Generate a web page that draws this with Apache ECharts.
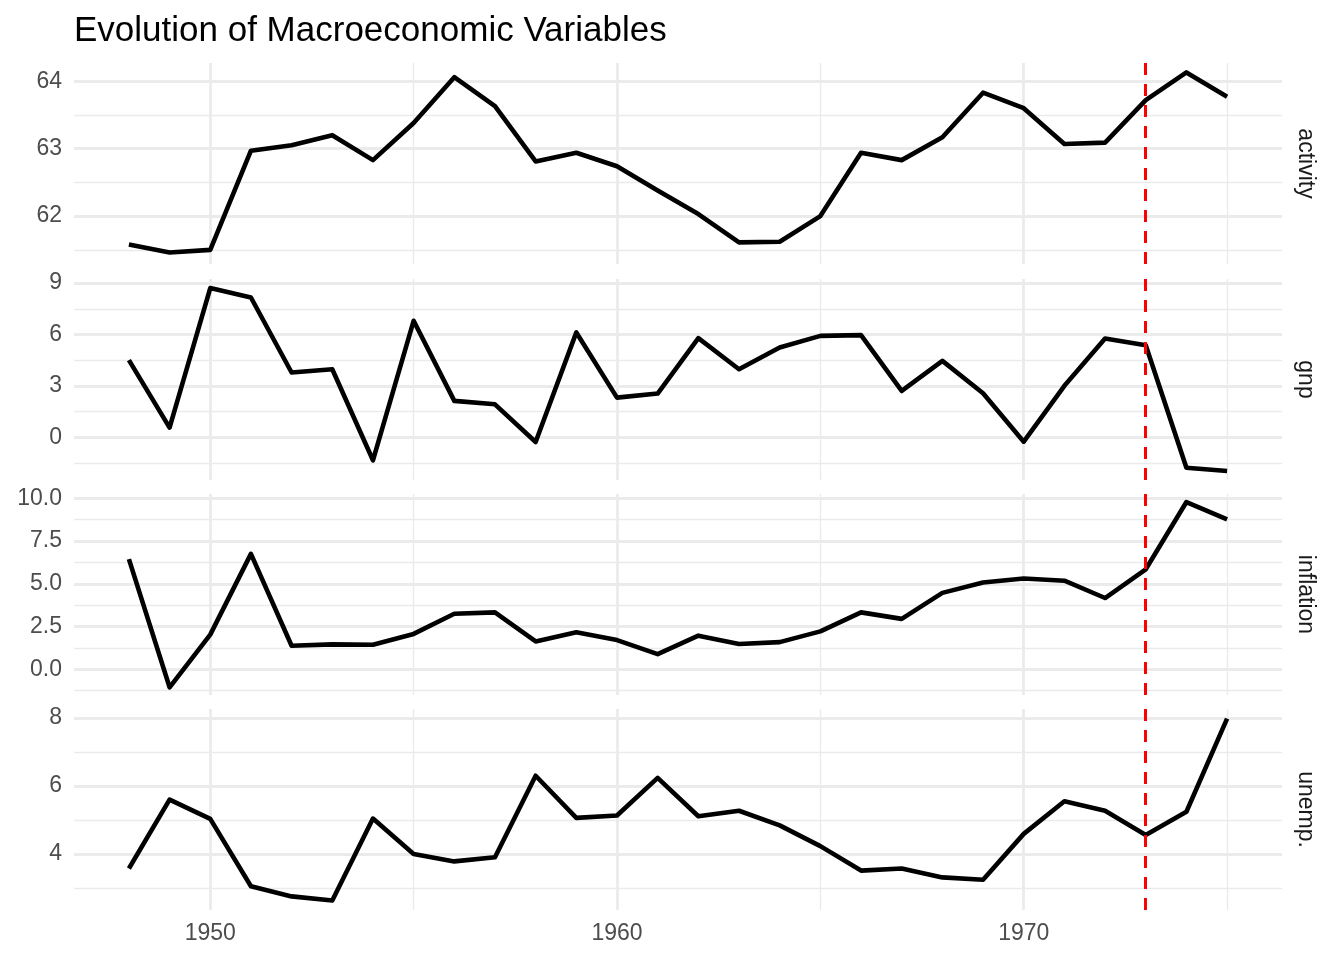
<!DOCTYPE html>
<html>
<head>
<meta charset="utf-8">
<script src="https://cdn.jsdelivr.net/npm/echarts@6/dist/echarts.min.js"></script>
<style>html,body{margin:0;padding:0;background:#fff}#c{width:1344px;height:960px}</style>
</head>
<body>
<div id="c"></div>
<script>
const years = [1948,1949,1950,1951,1952,1953,1954,1955,1956,1957,1958,1959,1960,1961,1962,1963,1964,1965,1966,1967,1968,1969,1970,1971,1972,1973,1974,1975];
const activity = [61.58,61.46,61.50,62.97,63.05,63.20,62.83,63.38,64.06,63.63,62.81,62.94,62.74,62.38,62.03,61.61,61.62,62.00,62.94,62.83,63.17,63.83,63.60,63.07,63.09,63.72,64.13,63.77];
const gnp = [4.50,0.56,8.71,8.16,3.78,3.97,-1.35,6.80,2.12,1.92,-0.28,6.12,2.31,2.55,5.79,3.97,5.24,5.92,5.96,2.70,4.46,2.57,-0.26,3.00,5.76,5.37,-1.78,-1.97];
const inflation = [6.44,-1.05,2.03,6.75,1.38,1.46,1.44,2.07,3.25,3.33,1.63,2.17,1.71,0.89,1.97,1.48,1.59,2.22,3.33,2.95,4.47,5.08,5.31,5.18,4.17,5.85,9.78,8.76];
const unemp = [3.57,5.60,5.03,3.05,2.75,2.63,5.04,4.00,3.78,3.90,6.30,5.06,5.13,6.24,5.11,5.27,4.84,4.23,3.51,3.57,3.31,3.24,4.59,5.55,5.27,4.56,5.24,7.98];

const panelNames = ['activity','gnp','inflation','unemp.'];
const panelSeries = [activity, gnp, inflation, unemp];
const yTicks = [[62,63,64],[0,3,6,9],[0,2.5,5,7.5,10],[4,6,8]];
const yMinor = [[61.5,62.5,63.5],[-1.5,1.5,4.5,7.5],[-1.25,1.25,3.75,6.25,8.75],[3,5,7]];
const yMin = [61.29,-2.5,-1.5,2.35];
const yMax = [64.27,9.24,10.25,8.265];
const xTicks = [1950,1960,1970];
const xMinor = [1955,1965,1975];
const xMin = 1946.65, xMax = 1976.35;
const breakYear = 1973;

const FONT = 'Liberation Sans, Arial, sans-serif';
const tops = [63,279,494,709];
const H = 201;

const grids = [], xAxes = [], yAxes = [], series = [], graphics = [];
const majorStyle = {color:'#EBEBEB', width:2.8, type:'solid'};
const minorStyle = {color:'#EBEBEB', width:1.4, type:'solid'};

for (let i = 0; i < 4; i++) {
  grids.push({left:74, width:1208, top:tops[i], height:H, containLabel:false});
  xAxes.push({
    type:'value', gridIndex:i, min:xMin, max:xMax,
    axisLine:{show:false}, axisTick:{show:false}, splitLine:{show:false},
    axisLabel:{show:i===3, customValues:xTicks, color:'#4D4D4D', fontSize:23, fontFamily:FONT, margin:12, formatter:v=>String(v)}
  });
  const dec = i === 2;
  yAxes.push({
    type:'value', gridIndex:i, min:yMin[i], max:yMax[i],
    axisLine:{show:false}, axisTick:{show:false}, splitLine:{show:false},
    axisLabel:{customValues:yTicks[i], color:'#4D4D4D', fontSize:23, fontFamily:FONT, margin:12,
      formatter:v=> dec ? Number(v).toFixed(1) : String(Math.round(v))}
  });
  const pts = years.map((y,k)=>[y, panelSeries[i][k]]);
  const gridLines = [];
  xTicks.forEach(v=>gridLines.push({xAxis:v, lineStyle:majorStyle}));
  xMinor.forEach(v=>gridLines.push({xAxis:v, lineStyle:minorStyle}));
  yTicks[i].forEach(v=>gridLines.push({yAxis:v, lineStyle:majorStyle}));
  yMinor[i].forEach(v=>gridLines.push({yAxis:v, lineStyle:minorStyle}));
  series.push({
    type:'line', xAxisIndex:i, yAxisIndex:i, data:pts, showSymbol:false, symbol:'none',
    lineStyle:{opacity:0}, silent:true, z:1,
    markLine:{silent:true, symbol:['none','none'], label:{show:false}, z:1, animation:false, data:gridLines}
  });
  series.push({
    type:'line', xAxisIndex:i, yAxisIndex:i, data:pts, showSymbol:false, symbol:'none',
    lineStyle:{color:'#000', width:4.6, join:'round', cap:'butt'}, z:3, silent:true,
    markLine:{silent:true, symbol:['none','none'], label:{show:false}, z:6, animation:false,
      data:[{xAxis:breakYear, lineStyle:{color:'#FF0000', width:3, type:[12,9]}}]}
  });
  graphics.push({
    type:'text', x:1305, y:tops[i] + H/2, rotation:-Math.PI/2,
    style:{text:panelNames[i], fill:'#1A1A1A', fontSize:23, fontFamily:FONT, align:'center', verticalAlign:'middle'}
  });
}

const chart = echarts.init(document.getElementById('c'), null, {renderer:'canvas'});
chart.setOption({
  animation:false,
  backgroundColor:'#ffffff',
  title:{text:'Evolution of Macroeconomic Variables', left:74, top:14, padding:0,
    textStyle:{fontSize:35, fontWeight:'normal', color:'#000', fontFamily:FONT}},
  grid:grids, xAxis:xAxes, yAxis:yAxes, series:series, graphic:graphics
});
</script>
</body>
</html>
